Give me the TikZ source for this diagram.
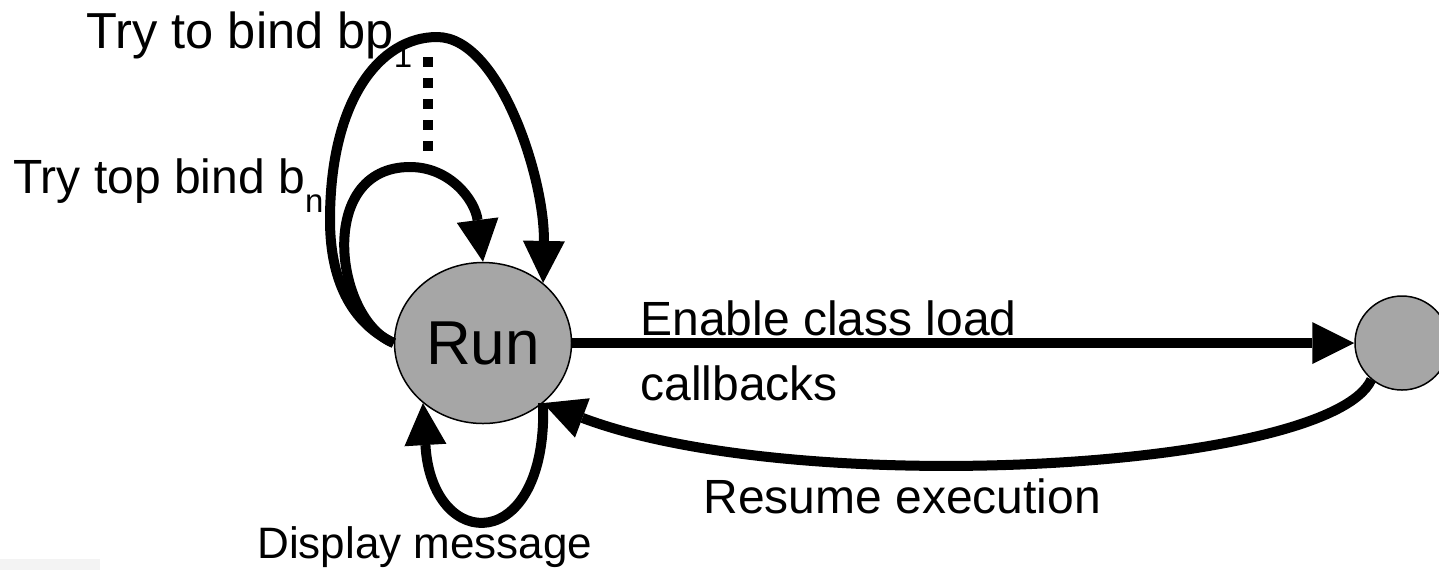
\documentclass[tikz,border=0pt]{standalone}
\usepackage{fontspec}
\setmainfont{Liberation Sans}
\usetikzlibrary{arrows.meta,shapes.geometric}

\definecolor{statefill}{RGB}{166,166,166}
\definecolor{stripgray}{RGB}{243,243,243}

% small lowered index in the label font
\newcommand\lowidx[1]{\raisebox{-9.5pt}{\fontsize{16.5pt}{16.5pt}\selectfont #1}}

\tikzset{
  state/.style={draw=black, line width=0.75pt, fill=statefill, inner sep=0pt},
  flow/.style={line width=5pt, -{Triangle[length=21pt,width=21pt,line width=0pt]}},
  lbl/.style={inner sep=0pt, anchor=base west, font=\fontsize{24pt}{32.5pt}\selectfont},
}

\begin{document}
\begin{tikzpicture}[x=0.5pt, y=-0.5pt]
  \useasboundingbox (0,0) rectangle (1439,570);
  \fill[stripgray] (0,559) rectangle (100,570);

  % states
  \node[state, ellipse, minimum width=88.5pt, minimum height=80.5pt,
        font=\fontsize{31pt}{31pt}\selectfont] (run) at (483,343) {Run};
  \node[state, circle, minimum size=47pt] (wait) at (1402,343) {};

  % self loops over the top
  \draw[flow] (run.west) .. controls (345,320) and (330,270) .. (330,220)
                          .. controls (330,100) and (380,37) .. (437,37)
                          .. controls (500,37) and (545,180) .. (run.45);
  \draw[flow] (run.west) .. controls (335,320) and (315,167) .. (410,167)
                          .. controls (450,167) and (475,200) .. (run.north);
  \coordinate (dtop) at (428,57);
  \coordinate (dbot) at (428,151);
  \draw[line width=5pt, line cap=butt, dash pattern=on 4.75pt off 5.75pt] (dtop) -- (dbot);

  % self loop underneath
  \draw[flow] (run.-45) .. controls (548,555) and (432,555) .. (run.-135);

  % transitions between the two states
  \draw[flow] (run.east) -- (wait.west);
  \draw[flow] (wait.-130) .. controls (1330,470) and (800,500) .. (run.-45);

  % labels
  \node[lbl, font=\fontsize{25.3pt}{30pt}\selectfont] (l1) at (86,48) {Try to bind bp\lowidx{1}};
  \node[lbl] (ln) at (13,193) {Try top bind b\lowidx{n}};
  \node[lbl] (len) at (640,335) {\begin{tabular}[t]{@{}l@{}}Enable class load\\callbacks\end{tabular}};
  \node[lbl] (lres) at (703,513) {Resume execution};
  \node[lbl, font=\fontsize{22pt}{26pt}\selectfont] (ldisp) at (257,558) {Display message};
\end{tikzpicture}
\end{document}
